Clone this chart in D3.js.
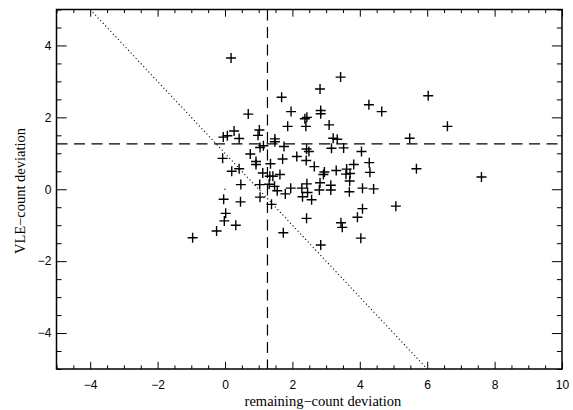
<!DOCTYPE html>
<html>
<head>
<meta charset="utf-8">
<script src="https://cdn.jsdelivr.net/npm/d3@7"></script>
<style>
  body { margin: 0; background: #fff; }
  svg { display: block; }
</style>
</head>
<body>
<div id="chart"></div>
<script>
// remaining-count deviation (x) vs VLE-count deviation (y)
const xDev = [
  0.18, 0.69, 1.02, 0.98, 0.27, 0.07, -0.05, 0.42, 1.48, 1.48,
  1.14, 1.04, 3.43, 2.82, 1.68, 1.96, 2.84, 2.84, 2.37, 2.43,
  1.86, 2.40, 3.09, 4.27, 4.65, 3.21, 3.33, 1.75, 2.42, 2.49,
  3.16, 3.52, 6.03, 6.60, 5.48, 4.05, 0.75, -0.07, 0.92, 0.92,
  1.35, 0.20, 0.42, 1.12, 1.33, 1.42, 1.63, 1.71, 2.13, 2.41,
  2.65, 2.95, 2.92, 3.30, 3.61, 3.59, 3.71, 3.82, 4.28, 4.30,
  5.68, 7.61, 0.47, 1.03, 1.31, 1.47, 1.55, 1.79, 1.95, 2.28,
  2.30, 2.43, 2.45, 2.57, 2.82, 2.80, 3.14, 3.14, 3.70, 3.69,
  4.08, 4.41, -0.04, 0.46, 1.04, 1.38, 0.02, -0.02, 0.32, -0.25,
  -0.96, 2.42, 1.73, 2.84, 3.44, 3.48, 3.93, 4.08, 4.03, 5.07
];
const yDev = [
  3.65, 2.09, 1.65, 1.50, 1.62, 1.49, 1.45, 1.41, 1.40, 1.32,
  1.21, 1.16, 3.12, 2.79, 2.56, 2.16, 2.19, 2.10, 1.96, 2.00,
  1.75, 1.75, 1.79, 2.35, 2.16, 1.42, 1.39, 1.19, 1.12, 1.05,
  1.14, 1.15, 2.60, 1.75, 1.42, 1.05, 0.98, 0.86, 0.77, 0.69,
  0.71, 0.50, 0.57, 0.45, 0.36, 0.36, 0.41, 0.84, 0.91, 0.80,
  0.63, 0.48, 0.41, 0.52, 0.56, 0.42, 0.44, 0.69, 0.74, 0.47,
  0.57, 0.34, 0.13, 0.13, 0.14, 0.08, -0.04, -0.13, 0.03, 0.03,
  -0.21, 0.15, -0.09, -0.29, 0.18, -0.02, 0.11, -0.02, 0.23, -0.07,
  0.03, 0.01, -0.28, -0.35, -0.22, -0.42, -0.67, -0.88, -1.00, -1.16,
  -1.35, -0.81, -1.21, -1.55, -0.93, -1.06, -0.78, -0.54, -1.36, -0.47
];
// reference lines
const xCut = [1.26];
const yCut = [1.26];
const diagX = [-4, 6];
const diagY = [5, -5];
const origin = [[0, 0]];

const xTicks = [-4, -2, 0, 2, 4, 6, 8, 10];
const yTicks = [-4, -2, 0, 2, 4];

const width = 573, height = 410;
const margin = { left: 56.5, right: 11, top: 9.5, bottom: 41 };

const svg = d3.select("#chart").append("svg")
  .attr("width", width)
  .attr("height", height);

const x = d3.scaleLinear().domain([-5, 10]).range([margin.left, width - margin.right]);
const y = d3.scaleLinear().domain([-5, 5]).range([height - margin.bottom, margin.top]);

const minorX = d3.range(-5, 10.01, 0.5).filter(v => !xTicks.includes(v));
const minorY = d3.range(-5, 5.01, 0.5).filter(v => !yTicks.includes(v));

const plotW = x(10) - x(-5);
const plotH = y(-5) - y(5);
const tx = 0.02 * plotH;   // x-axis tick length
const ty = 0.02 * plotW;   // y-axis tick length

function drawAxis(axis, tx0, ty0) {
  const g = svg.append("g")
    .attr("transform", `translate(${tx0},${ty0})`)
    .call(axis);
  g.select(".domain").remove();
  g.selectAll("line").attr("stroke", "#000").attr("stroke-width", 1);
  return g;
}

const fmt = d => d3.format("")(d).replace("-", "\u2212");

// bottom
const xb = drawAxis(d3.axisBottom(x).tickValues(xTicks).tickSizeInner(-tx).tickSizeOuter(0).tickPadding(tx + 4).tickFormat(fmt), 0, y(-5));
xb.selectAll("text").attr("font-family", "'Liberation Sans', Arial, sans-serif").attr("font-size", 12).attr("fill", "#000");
drawAxis(d3.axisBottom(x).tickValues(minorX).tickSizeInner(-tx / 2).tickSizeOuter(0).tickFormat(""), 0, y(-5));
// top
drawAxis(d3.axisTop(x).tickValues(xTicks).tickSizeInner(-tx).tickSizeOuter(0).tickFormat(""), 0, y(5));
drawAxis(d3.axisTop(x).tickValues(minorX).tickSizeInner(-tx / 2).tickSizeOuter(0).tickFormat(""), 0, y(5));
// left
const yl = drawAxis(d3.axisLeft(y).tickValues(yTicks).tickSizeInner(-ty).tickSizeOuter(0).tickPadding(5).tickFormat(fmt), x(-5), 0);
yl.selectAll("text").attr("font-family", "'Liberation Sans', Arial, sans-serif").attr("font-size", 12).attr("fill", "#000");
drawAxis(d3.axisLeft(y).tickValues(minorY).tickSizeInner(-ty / 2).tickSizeOuter(0).tickFormat(""), x(-5), 0);
// right
drawAxis(d3.axisRight(y).tickValues(yTicks).tickSizeInner(-ty).tickSizeOuter(0).tickFormat(""), x(10), 0);
drawAxis(d3.axisRight(y).tickValues(minorY).tickSizeInner(-ty / 2).tickSizeOuter(0).tickFormat(""), x(10), 0);

// frame
svg.append("rect")
  .attr("x", x(-5)).attr("y", y(5))
  .attr("width", plotW).attr("height", plotH)
  .attr("fill", "none").attr("stroke", "#000").attr("stroke-width", 1.5);

svg.append("defs").append("clipPath").attr("id", "clip")
  .append("rect").attr("x", x(-5)).attr("y", y(5)).attr("width", plotW).attr("height", plotH);

const plot = svg.append("g").attr("clip-path", "url(#clip)");

// dotted diagonal
const line = d3.line().x(d => x(d[0])).y(d => y(d[1]));
plot.append("path")
  .attr("d", line(diagX.map((v, i) => [v, diagY[i]])))
  .attr("fill", "none").attr("stroke", "#000").attr("stroke-width", 1.1)
  .attr("stroke-dasharray", "1.1,2.6");

// dashed cuts
plot.selectAll(".hcut").data(yCut).enter().append("line")
  .attr("x1", x(-5)).attr("x2", x(10))
  .attr("y1", d => y(d)).attr("y2", d => y(d))
  .attr("stroke", "#000").attr("stroke-width", 1.2).attr("stroke-dasharray", "11,6.5");
plot.selectAll(".vcut").data(xCut).enter().append("line")
  .attr("x1", d => x(d)).attr("x2", d => x(d))
  .attr("y1", y(5)).attr("y2", y(-5))
  .attr("stroke", "#000").attr("stroke-width", 1.2).attr("stroke-dasharray", "11,6.5");

// origin dot
plot.selectAll(".orig").data(origin).enter().append("rect")
  .attr("x", d => x(d[0]) - 0.6).attr("y", d => y(d[1]) - 0.6)
  .attr("width", 1.2).attr("height", 1.2).attr("fill", "#000");

// plus symbols
const pts = xDev.map((v, i) => [v, yDev[i]]);
plot.selectAll(".pt").data(pts).enter().append("path")
  .attr("transform", d => `translate(${x(d[0])},${y(d[1])})`)
  .attr("d", "M-5,0H5M0,-5V5")
  .attr("fill", "none").attr("stroke", "#000").attr("stroke-width", 1.4);

// axis titles
svg.append("text")
  .attr("x", 323).attr("y", 406)
  .attr("text-anchor", "middle")
  .attr("font-family", "'Liberation Serif', 'Times New Roman', serif")
  .attr("font-size", 14.5)
  .text("remaining\u2212count deviation");

svg.append("text")
  .attr("transform", "translate(24.5,191) rotate(-90)")
  .attr("text-anchor", "middle")
  .attr("font-family", "'Liberation Serif', 'Times New Roman', serif")
  .attr("font-size", 14.5)
  .text("VLE\u2212count deviation");
</script>
</body>
</html>
